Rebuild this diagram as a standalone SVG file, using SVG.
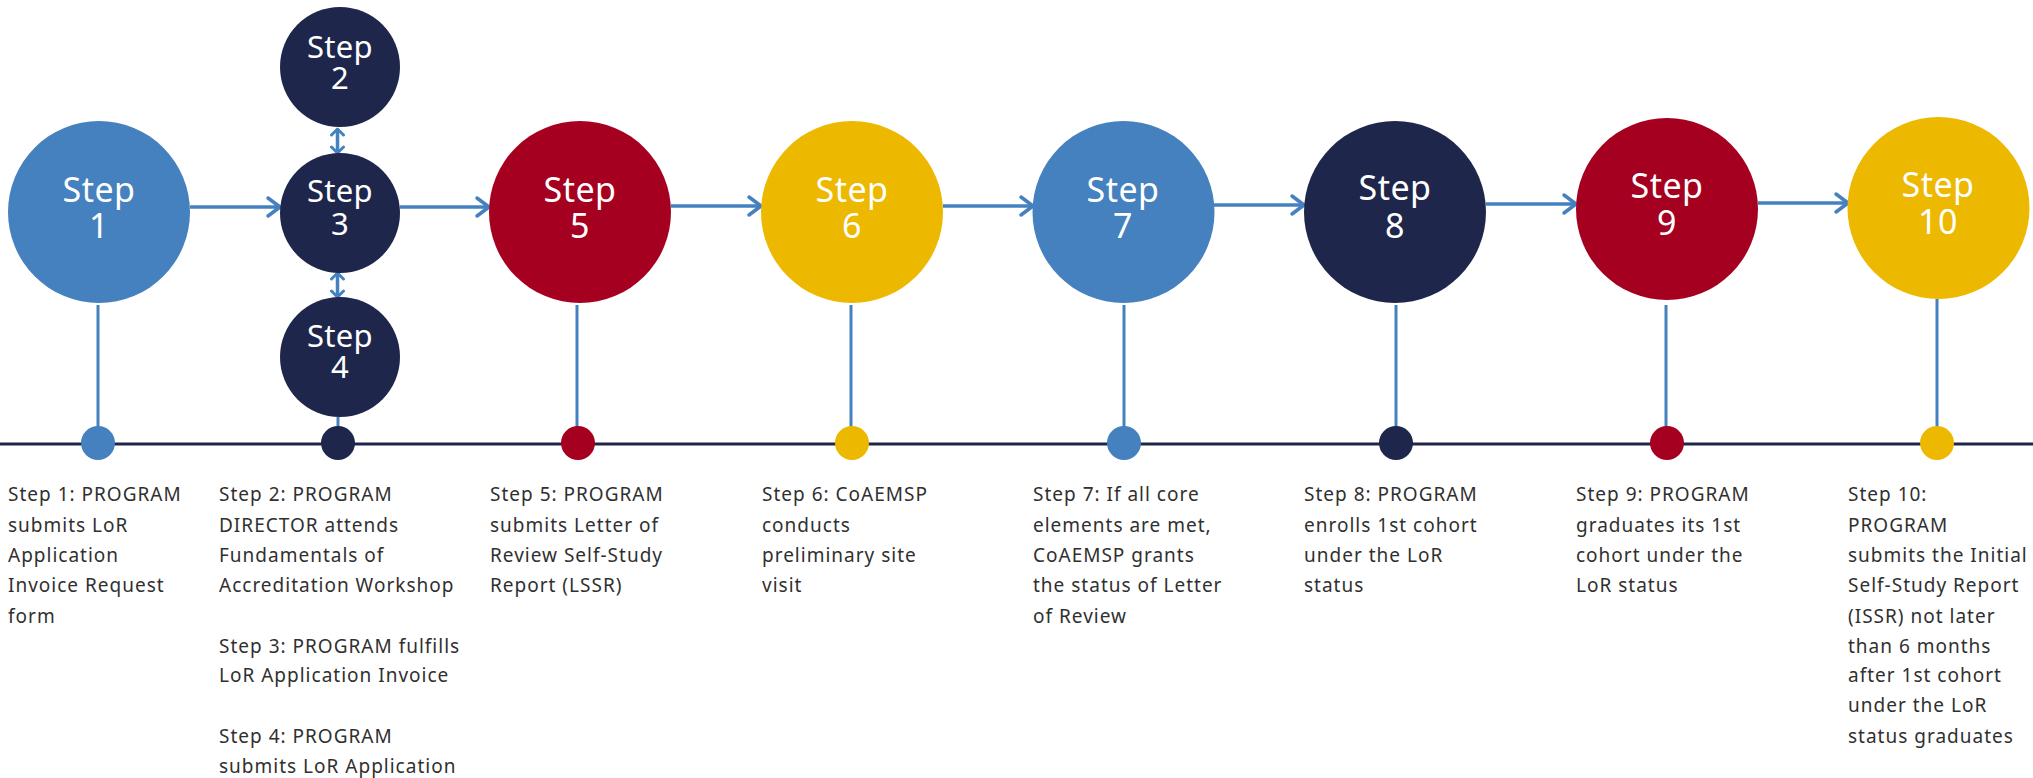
<svg xmlns="http://www.w3.org/2000/svg" width="2033" height="778" viewBox="0 0 2033 778">
<style>
.blue{fill:#4580BF}.navy{fill:#1E264B}.red{fill:#A60021}.gold{fill:#ECB800}
.lbl{font-family:"Noto Sans","Open Sans",sans-serif;font-size:34px;fill:#fff;text-anchor:middle;letter-spacing:0.5px}
.lbls{font-family:"Noto Sans","Open Sans",sans-serif;font-size:31px;fill:#fff;text-anchor:middle;letter-spacing:0.3px}
.desc{font-family:"Noto Sans","Open Sans",sans-serif;font-size:19px;fill:#303030;letter-spacing:1px}
.conn{stroke:#4580BF;stroke-width:3.5;fill:none}
.stem{stroke:#4580BF;stroke-width:3;fill:none}
</style>
<defs>
<marker id="arr" viewBox="-15 -12 18 24" refX="0" refY="0" markerWidth="18" markerHeight="24" markerUnits="userSpaceOnUse" orient="auto-start-reverse">
<path d="M-12,-9 L0,0 L-12,9" fill="none" stroke="#4580BF" stroke-width="3.5" stroke-linecap="round" stroke-linejoin="round"/>
</marker>
<marker id="arrs" viewBox="-9 -9 11 18" refX="0" refY="0" markerWidth="11" markerHeight="18" markerUnits="userSpaceOnUse" orient="auto-start-reverse">
<path d="M-6,-6 L0,0 L-6,6" fill="none" stroke="#4580BF" stroke-width="3" stroke-linecap="round" stroke-linejoin="round"/>
</marker>
</defs>
<rect width="2033" height="778" fill="#fff"/>
<g id="connectors">
<line x1="0" y1="444" x2="2033" y2="444" stroke="#1E264B" stroke-width="3"/>
<line class="stem" x1="98" y1="305" x2="98" y2="428"/>
<line class="stem" x1="338" y1="417" x2="338" y2="428"/>
<line class="stem" x1="577" y1="305" x2="577" y2="428"/>
<line class="stem" x1="851" y1="305" x2="851" y2="428"/>
<line class="stem" x1="1124" y1="305" x2="1124" y2="428"/>
<line class="stem" x1="1396" y1="305" x2="1396" y2="428"/>
<line class="stem" x1="1666" y1="305" x2="1666" y2="428"/>
<line class="stem" x1="1937" y1="299" x2="1937" y2="428"/>
<line class="conn" x1="190" y1="207" x2="280" y2="207" marker-end="url(#arr)"/>
<line class="conn" x1="400" y1="207" x2="489" y2="207" marker-end="url(#arr)"/>
<line class="conn" x1="671" y1="206" x2="761" y2="206" marker-end="url(#arr)"/>
<line class="conn" x1="943" y1="206" x2="1033" y2="206" marker-end="url(#arr)"/>
<line class="conn" x1="1214" y1="205" x2="1304" y2="205" marker-end="url(#arr)"/>
<line class="conn" x1="1486" y1="204" x2="1576" y2="204" marker-end="url(#arr)"/>
<line class="conn" x1="1758" y1="203" x2="1848" y2="203" marker-end="url(#arr)"/>
<line class="conn" x1="337.5" y1="129" x2="337.5" y2="153" stroke-width="3" marker-start="url(#arrs)" marker-end="url(#arrs)"/>
<line class="conn" x1="337.5" y1="273" x2="337.5" y2="297" stroke-width="3" marker-start="url(#arrs)" marker-end="url(#arrs)"/>
</g>
<g id="dots">
<circle class="blue" cx="98" cy="443" r="17"/>
<circle class="navy" cx="338" cy="443" r="17"/>
<circle class="red" cx="578" cy="443" r="17"/>
<circle class="gold" cx="852" cy="443" r="17"/>
<circle class="blue" cx="1124" cy="443" r="17"/>
<circle class="navy" cx="1396" cy="443" r="17"/>
<circle class="red" cx="1667" cy="443" r="17"/>
<circle class="gold" cx="1937" cy="443" r="17"/>
</g>
<g id="step1"><circle class="blue" cx="99" cy="212" r="91"/><text class="lbl"><tspan x="99" y="202">Step</tspan><tspan x="99" y="238">1</tspan></text></g>
<g id="step2"><circle class="navy" cx="340" cy="67" r="60"/><text class="lbls"><tspan x="340" y="58">Step</tspan><tspan x="340" y="89">2</tspan></text></g>
<g id="step3"><circle class="navy" cx="340" cy="213" r="60"/><text class="lbls"><tspan x="340" y="202">Step</tspan><tspan x="340" y="235">3</tspan></text></g>
<g id="step4"><circle class="navy" cx="340" cy="357" r="60"/><text class="lbls"><tspan x="340" y="347">Step</tspan><tspan x="340" y="378">4</tspan></text></g>
<g id="step5"><circle class="red" cx="580" cy="212" r="91"/><text class="lbl"><tspan x="580" y="202">Step</tspan><tspan x="580" y="238">5</tspan></text></g>
<g id="step6"><circle class="gold" cx="852" cy="212" r="91"/><text class="lbl"><tspan x="852" y="202">Step</tspan><tspan x="852" y="238">6</tspan></text></g>
<g id="step7"><circle class="blue" cx="1123.5" cy="212" r="91"/><text class="lbl"><tspan x="1123" y="202">Step</tspan><tspan x="1123" y="238">7</tspan></text></g>
<g id="step8"><circle class="navy" cx="1395" cy="212" r="91"/><text class="lbl"><tspan x="1395" y="200">Step</tspan><tspan x="1395" y="238">8</tspan></text></g>
<g id="step9"><circle class="red" cx="1667" cy="209" r="91"/><text class="lbl"><tspan x="1667" y="198">Step</tspan><tspan x="1667" y="235">9</tspan></text></g>
<g id="step10"><circle class="gold" cx="1938.5" cy="208" r="91"/><text class="lbl"><tspan x="1938" y="197">Step</tspan><tspan x="1938" y="234">10</tspan></text></g>
<g id="desc1"><text class="desc"><tspan x="8" y="501">Step 1: PROGRAM</tspan><tspan x="8" y="532">submits LoR</tspan><tspan x="8" y="562">Application</tspan><tspan x="8" y="592">Invoice Request</tspan><tspan x="8" y="623">form</tspan></text></g>
<g id="desc2"><text class="desc"><tspan x="219" y="501">Step 2: PROGRAM</tspan><tspan x="219" y="532">DIRECTOR attends</tspan><tspan x="219" y="562">Fundamentals of</tspan><tspan x="219" y="592">Accreditation Workshop</tspan><tspan x="219" y="653">Step 3: PROGRAM fulfills</tspan><tspan x="219" y="682">LoR Application Invoice</tspan><tspan x="219" y="743">Step 4: PROGRAM</tspan><tspan x="219" y="773">submits LoR Application</tspan></text></g>
<g id="desc5"><text class="desc"><tspan x="490" y="501">Step 5: PROGRAM</tspan><tspan x="490" y="532">submits Letter of</tspan><tspan x="490" y="562">Review Self-Study</tspan><tspan x="490" y="592">Report (LSSR)</tspan></text></g>
<g id="desc6"><text class="desc"><tspan x="762" y="501">Step 6: CoAEMSP</tspan><tspan x="762" y="532">conducts</tspan><tspan x="762" y="562">preliminary site</tspan><tspan x="762" y="592">visit</tspan></text></g>
<g id="desc7"><text class="desc"><tspan x="1033" y="501">Step 7: If all core</tspan><tspan x="1033" y="532">elements are met,</tspan><tspan x="1033" y="562">CoAEMSP grants</tspan><tspan x="1033" y="592">the status of Letter</tspan><tspan x="1033" y="623">of Review</tspan></text></g>
<g id="desc8"><text class="desc"><tspan x="1304" y="501">Step 8: PROGRAM</tspan><tspan x="1304" y="532">enrolls 1st cohort</tspan><tspan x="1304" y="562">under the LoR</tspan><tspan x="1304" y="592">status</tspan></text></g>
<g id="desc9"><text class="desc"><tspan x="1576" y="501">Step 9: PROGRAM</tspan><tspan x="1576" y="532">graduates its 1st</tspan><tspan x="1576" y="562">cohort under the</tspan><tspan x="1576" y="592">LoR status</tspan></text></g>
<g id="desc10"><text class="desc"><tspan x="1848" y="501">Step 10:</tspan><tspan x="1848" y="532">PROGRAM</tspan><tspan x="1848" y="562">submits the Initial</tspan><tspan x="1848" y="592">Self-Study Report</tspan><tspan x="1848" y="623">(ISSR) not later</tspan><tspan x="1848" y="653">than 6 months</tspan><tspan x="1848" y="682">after 1st cohort</tspan><tspan x="1848" y="712">under the LoR</tspan><tspan x="1848" y="743">status graduates</tspan></text></g>
</svg>
